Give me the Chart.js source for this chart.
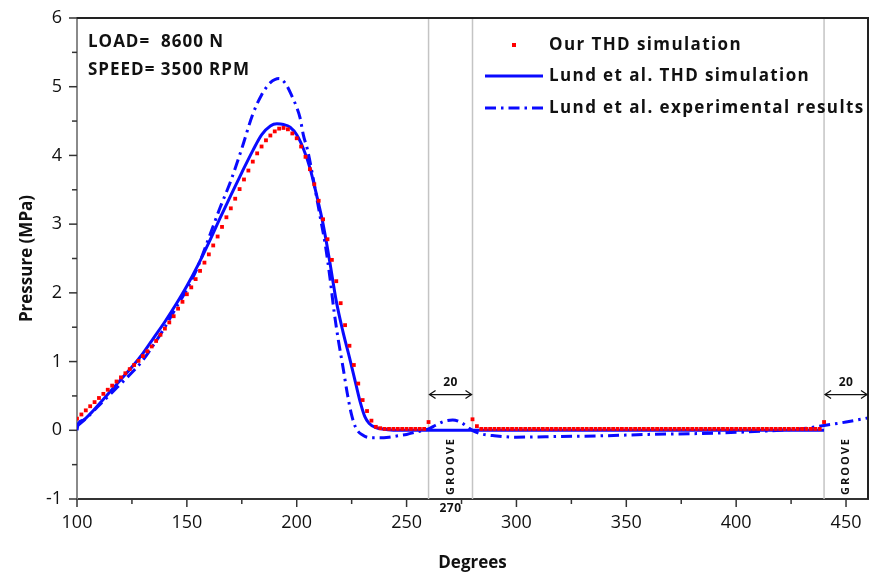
<!DOCTYPE html>
<html>
<head>
<meta charset="utf-8">
<script src="https://cdn.jsdelivr.net/npm/chart.js@4.4.1/dist/chart.umd.min.js"></script>
<style>
  body { margin: 0; background: #fff; }
  #wrap { width: 869px; height: 577px; }
</style>
</head>
<body>
<div id="wrap"><canvas id="pressureChart" width="869" height="577"></canvas></div>
<script>
// axis ticks
const xTicks = [100, 150, 200, 250, 300, 350, 400, 450];
const xMinorTicks = [125, 175, 225, 275, 325, 375, 425];
const yTicks = [-1, 0, 1, 2, 3, 4, 5, 6];
const yMinorTicks = [-0.5, 0.5, 1.5, 2.5, 3.5, 4.5, 5.5];

// groove marks
const grooveEdges = [260, 280, 440];
const grooveBands = [[260, 280], [440, 460]];
const grooveWidthLabel = '20';
const grooveName = 'GROOVE';
const grooveCentre = 270;

const seriesNames = ['Our THD simulation', 'Lund et al. THD simulation', 'Lund et al. experimental results'];
const conditions = ['LOAD=  8600 N', 'SPEED= 3500 RPM'];

// Our THD simulation (red squares)
const ourDeg = [
  100, 102, 104, 106, 108, 110, 112, 114, 116, 118,
  120, 122, 124, 126, 128, 130, 132, 134, 136, 138,
  140, 142, 144, 146, 148, 150, 152, 154, 156, 158,
  160, 162, 164, 166, 168, 170, 172, 174, 176, 178,
  180, 182, 184, 186, 188, 190, 192, 194, 196, 198,
  200, 202, 204, 206, 208, 210, 212, 214, 216, 218,
  220, 222, 224, 226, 228, 230, 232, 234, 236, 238,
  240, 242, 244, 246, 248, 250, 252, 254, 256, 258,
  260,
  280, 282, 284, 286, 288, 290, 292, 294, 296, 298,
  300, 302, 304, 306, 308, 310, 312, 314, 316, 318,
  320, 322, 324, 326, 328, 330, 332, 334, 336, 338,
  340, 342, 344, 346, 348, 350, 352, 354, 356, 358,
  360, 362, 364, 366, 368, 370, 372, 374, 376, 378,
  380, 382, 384, 386, 388, 390, 392, 394, 396, 398,
  400, 402, 404, 406, 408, 410, 412, 414, 416, 418,
  420, 422, 424, 426, 428, 430, 432, 434, 436, 438,
  440
];
const ourPressure = [
  0.17, 0.23, 0.29, 0.35, 0.41, 0.47, 0.53, 0.59, 0.65, 0.71,
  0.77, 0.83, 0.89, 0.95, 1.01, 1.08, 1.15, 1.22, 1.30, 1.39,
  1.48, 1.57, 1.66, 1.77, 1.87, 1.98, 2.08, 2.20, 2.32, 2.44,
  2.56, 2.69, 2.82, 2.96, 3.10, 3.23, 3.37, 3.51, 3.65, 3.78,
  3.91, 4.03, 4.13, 4.22, 4.29, 4.35, 4.39, 4.40, 4.38, 4.32,
  4.25, 4.13, 3.98, 3.80, 3.58, 3.34, 3.07, 2.78, 2.48, 2.17,
  1.85, 1.53, 1.23, 0.95, 0.68, 0.44, 0.28, 0.14, 0.05, 0.03,
  0.02, 0.02, 0.02, 0.02, 0.02, 0.02, 0.02, 0.02, 0.02, 0.02,
  0.12,
  0.16, 0.06, 0.02, 0.02, 0.02, 0.02, 0.02, 0.02, 0.02, 0.02,
  0.02, 0.02, 0.02, 0.02, 0.02, 0.02, 0.02, 0.02, 0.02, 0.02,
  0.02, 0.02, 0.02, 0.02, 0.02, 0.02, 0.02, 0.02, 0.02, 0.02,
  0.02, 0.02, 0.02, 0.02, 0.02, 0.02, 0.02, 0.02, 0.02, 0.02,
  0.02, 0.02, 0.02, 0.02, 0.02, 0.02, 0.02, 0.02, 0.02, 0.02,
  0.02, 0.02, 0.02, 0.02, 0.02, 0.02, 0.02, 0.02, 0.02, 0.02,
  0.02, 0.02, 0.02, 0.02, 0.02, 0.02, 0.02, 0.02, 0.02, 0.02,
  0.02, 0.02, 0.02, 0.02, 0.02, 0.02, 0.02, 0.02, 0.02, 0.02,
  0.12
];

// Lund et al. THD simulation (solid)
const lundDeg = [100, 100.5, 103, 106, 110, 115, 120, 125, 130, 135, 140, 145, 150, 155, 160, 165, 170, 175, 180, 184, 188, 191, 194, 197, 200, 203, 206, 209, 212, 215, 218, 221, 224, 227, 229, 231, 233, 236, 240, 245, 260, 280, 440];
const lundPressure = [0, 0.09, 0.15, 0.24, 0.38, 0.56, 0.74, 0.92, 1.12, 1.35, 1.58, 1.83, 2.10, 2.40, 2.73, 3.08, 3.42, 3.75, 4.07, 4.30, 4.43, 4.46, 4.45, 4.41, 4.30, 4.10, 3.82, 3.43, 3.00, 2.46, 1.88, 1.44, 1.06, 0.66, 0.40, 0.20, 0.10, 0.04, 0.015, 0, 0, 0, 0];

// Lund et al. experimental results (dash-dot)
const expDeg = [100, 105, 110, 115, 120, 125, 130, 135, 140, 145, 150, 155, 160, 165, 170, 175, 180, 184, 188, 192, 195, 198, 200, 201.5, 203, 205, 207, 209, 211, 213, 215, 217, 219, 221, 223, 225, 227, 230, 234, 238, 242, 246, 250, 255, 260, 263, 267, 271, 275, 278, 281, 285, 290, 300, 320, 340, 360, 380, 400, 420, 432, 440, 450, 460];
const expPressure = [0.06, 0.20, 0.36, 0.52, 0.68, 0.84, 1.02, 1.25, 1.50, 1.78, 2.05, 2.38, 2.80, 3.23, 3.63, 4.10, 4.60, 4.88, 5.06, 5.12, 5.04, 4.85, 4.70, 4.55, 4.30, 4.07, 3.75, 3.40, 3.05, 2.70, 2.25, 1.73, 1.30, 0.93, 0.54, 0.22, 0.03, -0.07, -0.11, -0.11, -0.10, -0.08, -0.06, -0.02, 0.02, 0.07, 0.13, 0.15, 0.11, 0.04, -0.02, -0.06, -0.08, -0.10, -0.09, -0.08, -0.06, -0.05, -0.03, 0, 0.03, 0.07, 0.12, 0.18];

const RED = '#ff0000';
const BLUE = '#0a0aff';
const FONT = '"Open Sans", "DejaVu Sans", sans-serif';
const DASH = [11, 5, 2.5, 5];

const toPoints = (xs, ys) => xs.map((x, i) => ({ x: x, y: ys[i] }));

const decorations = {
  id: 'decorations',
  beforeDatasetsDraw(chart) {
    const { ctx, chartArea: a, scales: { x } } = chart;
    ctx.save();
    ctx.strokeStyle = '#c4c4c4';
    ctx.lineWidth = 1.5;
    grooveEdges.forEach(d => {
      const px = x.getPixelForValue(d);
      ctx.beginPath(); ctx.moveTo(px, a.top); ctx.lineTo(px, a.bottom); ctx.stroke();
    });
    ctx.restore();
  },
  afterDraw(chart) {
    const { ctx, chartArea: a, scales: { x, y } } = chart;
    ctx.save();

    // black frame top / right
    ctx.strokeStyle = '#222';
    ctx.lineWidth = 2;
    ctx.beginPath();
    ctx.moveTo(a.left, a.top); ctx.lineTo(a.right, a.top); ctx.lineTo(a.right, a.bottom);
    ctx.stroke();

    // tick marks
    ctx.strokeStyle = '#333';
    ctx.lineWidth = 1.5;
    const tick = (x1, y1, x2, y2) => { ctx.beginPath(); ctx.moveTo(x1, y1); ctx.lineTo(x2, y2); ctx.stroke(); };
    xTicks.forEach(v => { const px = x.getPixelForValue(v); tick(px, a.bottom, px, a.bottom + 8); });
    xMinorTicks.forEach(v => { const px = x.getPixelForValue(v); tick(px, a.bottom, px, a.bottom + 5); });
    yTicks.forEach(v => { const py = y.getPixelForValue(v); tick(a.left, py, a.left - 8, py); });
    yMinorTicks.forEach(v => { const py = y.getPixelForValue(v); tick(a.left, py, a.left - 5, py); });

    // load / speed
    ctx.fillStyle = '#111';
    ctx.font = 'bold 17px ' + FONT;
    ctx.letterSpacing = '1px';
    ctx.textBaseline = 'middle';
    ctx.textAlign = 'left';
    ctx.fillText(conditions[0], a.left + 11, 42);
    ctx.fillText(conditions[1], a.left + 11, 70);

    // groove annotations
    const arrowY = y.getPixelForValue(0.52);
    grooveBands.forEach(([d0, d1]) => {
      const p0 = x.getPixelForValue(d0) + 1, p1 = Math.min(x.getPixelForValue(d1), a.right) - 1;
      const mid = (p0 + p1) / 2;
      ctx.strokeStyle = '#111';
      ctx.lineWidth = 1.3;
      ctx.beginPath(); ctx.moveTo(p0, arrowY); ctx.lineTo(p1, arrowY); ctx.stroke();
      ctx.beginPath();
      ctx.moveTo(p0 + 6, arrowY - 4); ctx.lineTo(p0, arrowY); ctx.lineTo(p0 + 6, arrowY + 4);
      ctx.moveTo(p1 - 6, arrowY - 4); ctx.lineTo(p1, arrowY); ctx.lineTo(p1 - 6, arrowY + 4);
      ctx.stroke();
      ctx.fillStyle = '#111';
      ctx.font = 'bold 12px ' + FONT;
      ctx.letterSpacing = '0.5px';
      ctx.textAlign = 'center';
      ctx.fillText(grooveWidthLabel, mid, arrowY - 12);
      ctx.save();
      ctx.translate(mid, y.getPixelForValue(-0.52));
      ctx.rotate(-Math.PI / 2);
      ctx.font = 'bold 11px ' + FONT;
      ctx.letterSpacing = '2px';
      ctx.fillText(grooveName, 0, 0);
      ctx.restore();
    });
    ctx.font = 'bold 12px ' + FONT;
    ctx.letterSpacing = '0.5px';
    ctx.textAlign = 'center';
    ctx.fillText(String(grooveCentre), x.getPixelForValue(grooveCentre), a.bottom + 10);

    // legend
    const lx0 = 485, lx1 = 543, tx = 549;
    const rows = [45, 76, 108];
    ctx.fillStyle = RED;
    ctx.fillRect((lx0 + lx1) / 2 - 2, rows[0] - 2, 4, 4);
    ctx.strokeStyle = BLUE;
    ctx.lineWidth = 3;
    ctx.beginPath(); ctx.moveTo(lx0, rows[1]); ctx.lineTo(lx1, rows[1]); ctx.stroke();
    ctx.setLineDash(DASH);
    ctx.beginPath(); ctx.moveTo(lx0, rows[2]); ctx.lineTo(lx1, rows[2]); ctx.stroke();
    ctx.setLineDash([]);
    ctx.fillStyle = '#111';
    ctx.font = 'bold 17px ' + FONT;
    ctx.letterSpacing = '1.4px';
    ctx.textAlign = 'left';
    seriesNames.forEach((name, i) => ctx.fillText(name, tx, rows[i]));

    ctx.restore();
  }
};

const ctx = document.getElementById('pressureChart').getContext('2d');
new Chart(ctx, {
  type: 'line',
  data: {
    datasets: [
      {
        label: seriesNames[0],
        data: toPoints(ourDeg, ourPressure),
        showLine: false,
        pointStyle: 'rect',
        pointRadius: 2.7,
        pointBorderWidth: 0,
        pointBackgroundColor: RED,
        borderColor: RED
      },
      {
        label: seriesNames[1],
        data: toPoints(lundDeg, lundPressure),
        borderColor: BLUE,
        borderWidth: 3,
        pointRadius: 0,
        cubicInterpolationMode: 'monotone'
      },
      {
        label: seriesNames[2],
        data: toPoints(expDeg, expPressure),
        borderColor: BLUE,
        borderWidth: 3,
        borderDash: DASH,
        pointRadius: 0,
        cubicInterpolationMode: 'monotone'
      }
    ]
  },
  options: {
    responsive: false,
    animation: false,
    layout: { autoPadding: false, padding: { top: 18, right: 1, left: 0, bottom: 0 } },
    plugins: { legend: { display: false }, tooltip: { enabled: false } },
    scales: {
      x: {
        type: 'linear',
        min: 100,
        max: 460,
        afterBuildTicks: s => { s.ticks = xTicks.map(v => ({ value: v })); },
        afterFit: s => { s.height = 78; s.paddingLeft = 0; s.paddingRight = 0; },
        grid: { display: false, drawTicks: false },
        border: { color: '#333', width: 2 },
        ticks: { color: '#111', padding: 13, maxRotation: 0, font: { family: FONT, size: 18 } },
        title: { display: true, text: 'Degrees', color: '#111', padding: { top: 0, bottom: 4 }, font: { family: FONT, size: 17, weight: 'bold' } }
      },
      y: {
        min: -1,
        max: 6,
        afterBuildTicks: s => { s.ticks = yTicks.map(v => ({ value: v })); },
        afterFit: s => { s.width = 77; s.paddingTop = 0; s.paddingBottom = 0; },
        grid: { display: false, drawTicks: false },
        border: { color: '#8a8a8a', width: 2 },
        ticks: { color: '#111', padding: 15, font: { family: FONT, size: 18 } },
        title: { display: true, text: 'Pressure (MPa)', color: '#111', padding: { top: 17, bottom: 0 }, font: { family: FONT, size: 17, weight: 'bold' } }
      }
    }
  },
  plugins: [decorations]
});
</script>
</body>
</html>
